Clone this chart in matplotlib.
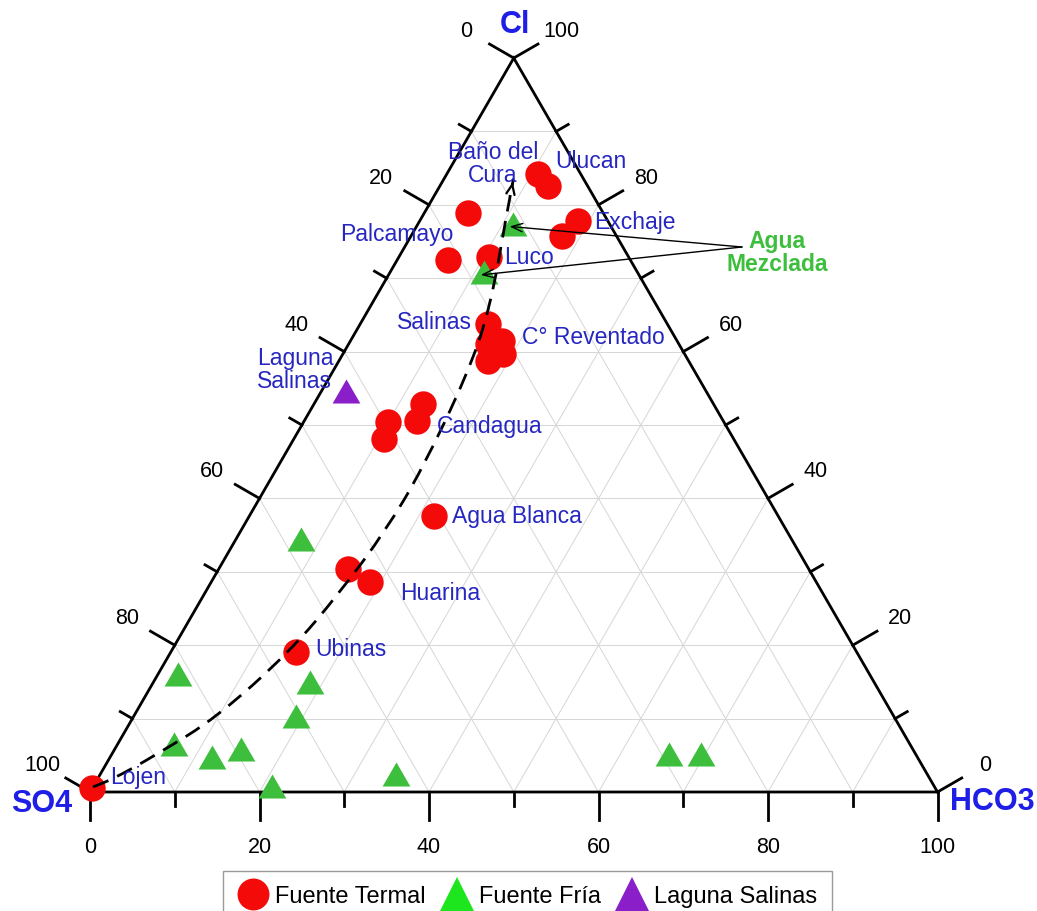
import numpy as np
import matplotlib.pyplot as plt
from matplotlib.lines import Line2D
from matplotlib.path import Path
from matplotlib.patches import PathPatch

plt.rcParams['font.family'] = ['Liberation Sans', 'DejaVu Sans']

# composiciones en % (SO4, HCO3, Cl)
termal_so4 = [5.0, 4.7, 3.5, 6.4, 16.0, 21.5, 16.5, 21.1, 20.7, 22.5, 21.4, 23.7,
              34.3, 36.2, 39.6, 41.3, 40.6, 54.4, 52.7, 66.2, 99.5]
termal_hco3 = [10.8, 12.7, 18.7, 17.9, 5.1, 6.0, 10.6, 15.1, 17.9, 16.5, 18.9, 17.6,
               12.8, 13.3, 10.0, 10.6, 21.8, 15.2, 18.7, 14.7, 0.0]
termal_cl = [84.2, 82.6, 77.8, 75.7, 78.9, 72.5, 72.9, 63.8, 61.4, 61.0, 59.7, 58.7,
             52.9, 50.5, 50.4, 48.1, 37.6, 30.4, 28.6, 19.1, 0.5]

fria_so4 = [11.4, 18.1, 57.9, 81.6, 66.5, 70.5, 86.8, 83.2, 79.2, 78.1, 62.6, 29.1, 25.3]
fria_hco3 = [11.2, 11.1, 7.6, 2.3, 18.5, 19.1, 6.7, 12.0, 14.9, 21.1, 34.9, 65.7, 69.5]
fria_cl = [77.4, 70.8, 34.5, 16.1, 15.0, 10.4, 6.5, 4.8, 5.9, 0.8, 2.5, 5.2, 5.2]

laguna_so4 = [42.5]
laguna_hco3 = [2.9]
laguna_cl = [54.6]

# tendencia de mezcla Lojen -> Baño del Cura
mezcla_so4 = [99.3, 96.9, 89.4, 79.9, 66.9, 56.9, 47.1, 38.8, 27.2, 19.9, 11.3, 8.3]
mezcla_hco3 = [0.0, 1.6, 5.4, 9.9, 14.0, 15.9, 17.1, 17.2, 16.1, 14.3, 9.7, 8.2]
mezcla_cl = [0.7, 1.5, 5.2, 10.2, 19.1, 27.2, 35.8, 44.0, 56.7, 65.8, 79.0, 83.5]

tick_values = list(range(0, 101, 10))

red = '#f50a0a'
green = '#3dbf3d'
green_leg = '#1ee61e'
purple = '#8a1ec8'
blue_title = '#1e1ee6'
blue_lab = '#2626c0'


def tern(so4, hco3, cl):
    so4 = np.asarray(so4, float)
    hco3 = np.asarray(hco3, float)
    cl = np.asarray(cl, float)
    tot = so4 + hco3 + cl
    return (hco3 + cl / 2) / tot, cl / tot * np.sqrt(3) / 2


fig = plt.figure(figsize=(10.37, 9.12), dpi=100)
ax = fig.add_axes([0, 0, 1, 1])
scale = 847.5  # px per unit side
ax.set_xlim(-90 / scale, (1037 - 90) / scale)
ax.set_ylim(-(912 - 793) / scale, 793 / scale)
ax.axis('off')


def pos(px, py):
    return (px - 90) / scale, (793 - py) / scale


# grid
for k in range(10, 100, 10):
    for seg in (tern([100 - k, 0], [0, 100 - k], [k, k]),
                tern([100 - k, 0], [k, k], [0, 100 - k]),
                tern([k, k], [100 - k, 0], [0, 100 - k])):
        ax.plot(*seg, color='#d6d6d6', lw=0.7, zorder=1)

# triangle
ax.plot(*tern([100, 0, 0, 100], [0, 100, 0, 0], [0, 0, 100, 0]),
        color='black', lw=2, zorder=3, solid_joinstyle='miter')

# ticks and tick labels
r3 = np.sqrt(3) / 2
for v in tick_values:
    ln = (28 if v % 20 == 0 else 14) / scale
    off = 55 / scale
    for (x, y), (nx, ny) in ((tern(v, 0, 100 - v), (-r3, 0.5)),
                             (tern(0, 100 - v, v), (r3, 0.5)),
                             (tern(100 - v, v, 0), (0, -1))):
        ax.plot([x, x + nx * ln], [y, y + ny * ln], color='black', lw=2, zorder=3)
        if v % 20 == 0:
            ax.text(x + nx * off, y + ny * off, str(v), fontsize=15.5,
                    ha='center', va='center')

# axis names
ax.text(*pos(515, 25), 'Cl', fontsize=22, fontweight='bold', color=blue_title,
        ha='center', va='center')
ax.text(*pos(42, 804), 'SO4', fontsize=22, fontweight='bold', color=blue_title,
        ha='center', va='center')
ax.text(*pos(992, 802), 'HCO3', fontsize=22, fontweight='bold', color=blue_title,
        ha='center', va='center')

# samples
tri = [(-1, -0.866), (1, -0.866), (0, 0.866)]
ax.plot(*tern(termal_so4, termal_hco3, termal_cl), ls='none', marker='o', ms=19,
        mfc=red, mec=red, mew=0, zorder=4)
ax.plot(*tern(fria_so4, fria_hco3, fria_cl), ls='none', marker=tri, ms=20,
        mfc=green, mec=green, mew=0, zorder=4)
ax.plot(*tern(laguna_so4, laguna_hco3, laguna_cl), ls='none', marker=tri, ms=20,
        mfc=purple, mec=purple, mew=0, zorder=4)

# mixing trend, smoothed with quadratic bezier segments through midpoints
mx, my = tern(mezcla_so4, mezcla_hco3, mezcla_cl)
pts = np.column_stack([mx, my])
verts = [pts[0]]
codes = [Path.MOVETO]
for i in range(1, len(pts) - 1):
    mid = (pts[i] + pts[i + 1]) / 2 if i < len(pts) - 2 else pts[i + 1]
    verts += [pts[i], mid]
    codes += [Path.CURVE3, Path.CURVE3]
ax.add_patch(PathPatch(Path(verts, codes), fill=False, ls=(0, (6, 3.5)),
                       ec='black', lw=2, zorder=5))
dx, dy = mx[-1] - mx[-2], my[-1] - my[-2]
d = np.hypot(dx, dy)
ax.annotate('', xy=(mx[-1], my[-1]),
            xytext=(mx[-1] - dx / d * 0.01, my[-1] - dy / d * 0.01),
            arrowprops=dict(arrowstyle='->,head_length=0.7,head_width=0.3',
                            lw=1.6, color='black'), zorder=5)

# Agua Mezclada pointers
fx, fy = tern(fria_so4[:2], fria_hco3[:2], fria_cl[:2])
for i in range(2):
    ax.annotate('', xy=(fx[i] - 0.004, fy[i] - 0.003), xytext=pos(742, 248),
                arrowprops=dict(arrowstyle='->,head_length=0.8,head_width=0.3',
                                lw=1, color='black', shrinkA=0, shrinkB=0),
                zorder=5)
ax.text(*pos(777, 253), 'Agua\nMezclada', fontsize=16.5, fontweight='bold',
        color=green, ha='center', va='center', linespacing=1.05)

# sample names
labels = [
    ('Baño del\nCura', 493, 164, 'center'),
    ('Ulucan', 555, 162, 'left'),
    ('Exchaje', 594, 223, 'left'),
    ('Palcamayo', 340, 235, 'left'),
    ('Luco', 504, 258, 'left'),
    ('Salinas', 397, 323, 'left'),
    ('C° Reventado', 522, 338, 'left'),
    ('Laguna\nSalinas', 257, 370, 'left'),
    ('Candagua', 437, 427, 'left'),
    ('Agua Blanca', 452, 517, 'left'),
    ('Huarina', 400, 593, 'left'),
    ('Ubinas', 315, 650, 'left'),
    ('Lojen', 110, 778, 'left'),
]
for txt, px, py, ha in labels:
    ax.text(*pos(px, py), txt, fontsize=16.5, color=blue_lab, ha=ha, va='center',
            linespacing=1.05, zorder=6)

handles = [
    Line2D([], [], ls='none', marker='o', ms=23, mfc=red, mec=red, mew=0),
    Line2D([], [], ls='none', marker='^', ms=25, mfc=green_leg, mec=green_leg, mew=0),
    Line2D([], [], ls='none', marker='^', ms=25, mfc=purple, mec=purple, mew=0),
]
fig.legend(handles, ['Fuente Termal', 'Fuente Fría', 'Laguna Salinas'],
           loc='upper center', bbox_to_anchor=(0.5087, 0.0439), ncol=3,
           fancybox=False, edgecolor='#9a9a9a', framealpha=1, fontsize=17,
           handlelength=1.3, handletextpad=0.3, columnspacing=0.65,
           borderpad=0.6, borderaxespad=0)

fig.savefig('out.png', dpi=100)
